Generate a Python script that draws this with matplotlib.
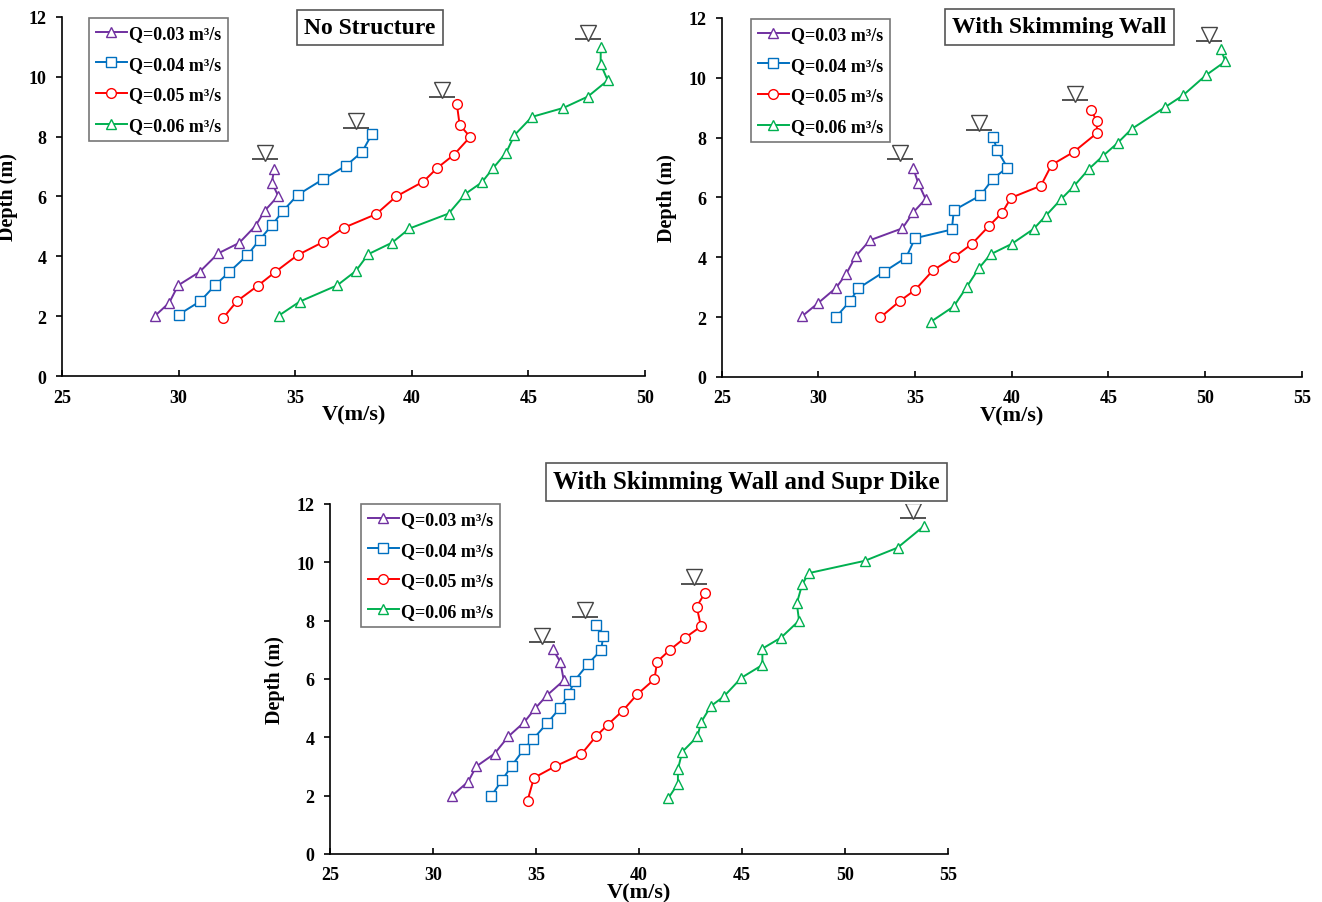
import numpy as np
import matplotlib
matplotlib.use("Agg")
import matplotlib.pyplot as plt
from matplotlib.transforms import offset_copy

plt.rcParams["font.family"] = ["Liberation Serif", "DejaVu Serif"]
plt.rcParams["font.weight"] = "bold"

LABELS = ["Q=0.03 m\u00b3/s", "Q=0.04 m\u00b3/s", "Q=0.05 m\u00b3/s", "Q=0.06 m\u00b3/s"]
COLORS = ["#7030A0", "#0070C0", "#FF0000", "#00B050"]
MARKERS = ["^", "s", "o", "^"]

# --- No structure ---
ns_v = [
    [29.0, 29.6, 29.98, 30.9, 31.7, 32.6, 33.3, 33.7, 34.27, 34.0, 34.1],
    [30.0, 30.93, 31.56, 32.18, 32.95, 33.47, 34.0, 34.47, 35.1, 36.2, 37.18, 37.87, 38.3],
    [31.9, 32.5, 33.4, 34.15, 35.1, 36.2, 37.1, 38.47, 39.33, 40.5, 41.1, 41.8, 42.5, 42.05, 41.93],
    [34.3, 35.2, 36.8, 37.6, 38.13, 39.16, 39.9, 41.58, 42.3, 43.0, 43.5, 44.05, 44.4, 45.15,
     46.5, 47.55, 48.4, 48.1, 48.1],
]
ns_d = [
    [2.02, 2.45, 3.03, 3.48, 4.1, 4.45, 5.02, 5.53, 6.02, 6.46, 6.93],
    [2.05, 2.5, 3.03, 3.48, 4.04, 4.55, 5.04, 5.51, 6.05, 6.58, 7.03, 7.49, 8.1],
    [1.93, 2.5, 3.02, 3.48, 4.04, 4.48, 4.96, 5.41, 6.0, 6.5, 6.96, 7.39, 7.99, 8.4, 9.1],
    [2.02, 2.49, 3.03, 3.51, 4.07, 4.46, 4.93, 5.43, 6.09, 6.47, 6.96, 7.47, 8.05, 8.66,
     8.96, 9.34, 9.88, 10.42, 11.0],
]
ns_surf_v = [33.7, 37.6, 41.3, 47.55]
ns_surf_d = [7.25, 8.3, 9.33, 11.26]

# --- With skimming wall ---
sw_v = [
    [29.17, 29.98, 30.91, 31.44, 31.92, 32.66, 34.34, 34.9, 35.54, 35.15, 34.9],
    [30.93, 31.65, 32.05, 33.4, 34.53, 35.0, 36.9, 37.0, 38.38, 39.03, 39.77, 39.25, 39.03],
    [33.2, 34.23, 35.0, 35.93, 37.0, 37.94, 38.84, 39.5, 39.96, 41.5, 42.06, 43.2, 44.4, 44.4, 44.1],
    [35.8, 37.0, 37.68, 38.29, 38.9, 40.0, 41.13, 41.76, 42.56, 43.2, 44.0, 44.7, 45.47, 46.2,
     47.93, 48.85, 50.03, 51.05, 50.8],
]
sw_d = [
    [2.04, 2.47, 2.98, 3.45, 4.03, 4.57, 4.97, 5.5, 5.95, 6.5, 6.98],
    [2.02, 2.55, 2.96, 3.52, 3.99, 4.64, 4.93, 5.57, 6.07, 6.63, 7.0, 7.58, 8.01],
    [1.99, 2.55, 2.91, 3.57, 4.0, 4.45, 5.06, 5.49, 5.99, 6.39, 7.09, 7.52, 8.15, 8.54, 8.93],
    [1.84, 2.36, 3.02, 3.63, 4.1, 4.45, 4.95, 5.39, 5.95, 6.37, 6.96, 7.38, 7.82, 8.29,
     9.02, 9.41, 10.08, 10.55, 10.97],
]
sw_surf_v = [34.2, 38.3, 43.26, 50.2]
sw_surf_d = [7.27, 8.27, 9.25, 11.22]

# --- With skimming wall and spur dike ---
sd_v = [
    [30.93, 31.71, 32.1, 32.99, 33.66, 34.42, 34.96, 35.55, 36.35, 36.18, 35.81],
    [32.84, 33.34, 33.82, 34.42, 34.86, 35.55, 36.18, 36.59, 36.87, 37.52, 38.17, 38.26, 37.91],
    [34.59, 34.9, 35.92, 37.2, 37.91, 38.48, 39.21, 39.91, 40.75, 40.88, 41.49, 42.23, 43.01,
     42.8, 43.21],
    [41.43, 41.89, 41.89, 42.1, 42.84, 43.01, 43.49, 44.12, 44.97, 45.99, 45.99, 46.9, 47.77,
     47.66, 47.92, 48.25, 50.96, 52.55, 53.83],
]
sd_d = [
    [2.0, 2.48, 3.0, 3.44, 4.03, 4.51, 4.99, 5.45, 5.95, 6.59, 7.02],
    [2.0, 2.52, 3.02, 3.6, 3.94, 4.49, 5.02, 5.47, 5.94, 6.51, 7.0, 7.48, 7.85],
    [1.83, 2.61, 3.0, 3.42, 4.03, 4.43, 4.91, 5.47, 5.99, 6.59, 6.99, 7.41, 7.8, 8.48, 8.96],
    [1.92, 2.41, 2.91, 3.5, 4.03, 4.51, 5.07, 5.4, 6.04, 6.48, 7.04, 7.42, 8.0, 8.59, 9.24,
     9.63, 10.05, 10.5, 11.24],
]
sd_surf_v = [35.27, 37.4, 42.65, 53.28]
sd_surf_d = [7.27, 8.14, 9.26, 11.53]


def draw_panel(fig, rect, vs, ds, surf_v, surf_d, xmax, title, title_xy, title_size,
               legend_anchor, ylabel_x):
    ax = fig.add_axes(rect)
    for v, d, lab, c, m in zip(vs, ds, LABELS, COLORS, MARKERS):
        ax.plot(v, d, color=c, lw=1.4, marker=m, ms=7, mfc="white", mec=c, mew=1.0,
                label=lab)

    # water surface symbols
    tri_tr = offset_copy(ax.transData, fig=fig, y=4.6, units="points")
    ax.plot(surf_v, surf_d, ls="none", marker="_", ms=19, mew=1.3, color="#444444")
    ax.plot(surf_v, surf_d, ls="none", marker="v", ms=11, mfc="white", mec="#444444",
            mew=1.0, transform=tri_tr)

    ax.set_xlim(25, xmax)
    ax.set_ylim(0, 12)
    ax.set_xticks(np.arange(25, xmax + 1, 5))
    ax.set_yticks(np.arange(0, 13, 2))
    ax.spines["top"].set_visible(False)
    ax.spines["right"].set_visible(False)
    ax.spines["left"].set_linewidth(1.2)
    ax.spines["bottom"].set_linewidth(1.2)
    ax.tick_params(axis="x", direction="in", length=4, width=1.2, labelsize=13, pad=9)
    ax.tick_params(axis="y", direction="out", length=4, width=1.2, labelsize=13, pad=7)
    for t in ax.get_xticklabels() + ax.get_yticklabels():
        t.set_fontweight("bold")
    ax.set_xlabel("V(m/s)", fontsize=16, fontweight="bold", labelpad=-1)
    ax.set_ylabel("Depth (m)", fontsize=14.5, fontweight="bold")
    ax.yaxis.set_label_coords(ylabel_x, 0.5)

    ax.text(title_xy[0], title_xy[1], title, transform=ax.transAxes, ha="center",
            va="center", fontsize=title_size, fontweight="bold", clip_on=False,
            bbox=dict(boxstyle="square,pad=0.3", fc="white", ec="#555555", lw=1.2))

    leg = ax.legend(loc="upper left", bbox_to_anchor=legend_anchor, fontsize=13,
                    frameon=True, fancybox=False, edgecolor="#555555",
                    handlelength=1.7, handletextpad=0.1, labelspacing=0.75,
                    borderpad=0.4, borderaxespad=0)
    leg.get_frame().set_linewidth(1.2)
    for t in leg.get_texts():
        t.set_fontweight("bold")
    return ax


fig = plt.figure(figsize=(13.22, 9.03), dpi=100)

draw_panel(fig, [0.0469, 0.5825, 0.441, 0.3976], ns_v, ns_d, ns_surf_v, ns_surf_d, 50,
           "No Structure", (0.528, 0.971), 17, (0.046, 0.997), -0.075)
draw_panel(fig, [0.546, 0.5814, 0.4387, 0.3976], sw_v, sw_d, sw_surf_v, sw_surf_d, 55,
           "With Skimming Wall", (0.582, 0.975), 17, (0.05, 0.997), -0.077)
draw_panel(fig, [0.2496, 0.0532, 0.4675, 0.3876], sd_v, sd_d, sd_surf_v, sd_surf_d, 55,
           "With Skimming Wall and Supr Dike", (0.674, 1.064), 18, (0.05, 1.0), -0.073)

fig.savefig("out.png", dpi=100)
